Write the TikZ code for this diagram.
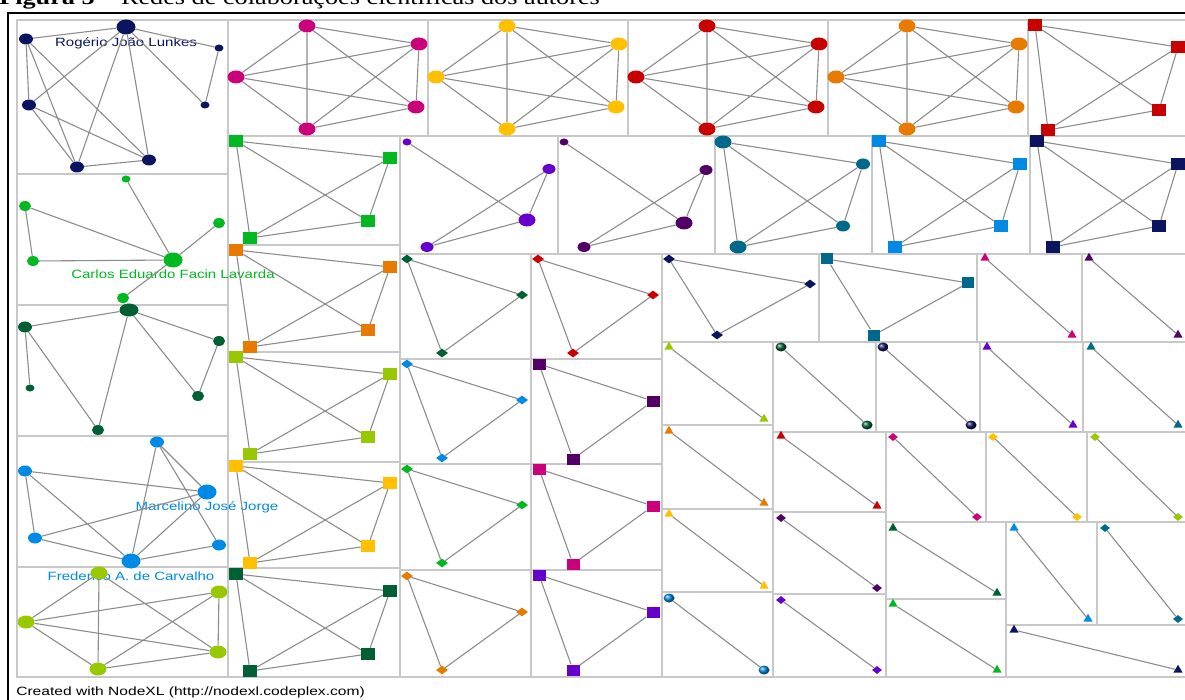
\documentclass[tikz,border=0pt]{standalone}
\usepackage{fontspec}
\setmainfont{Liberation Serif}
\newfontfamily\nodexlfont{Liberation Sans}
\usetikzlibrary{shapes.geometric}

\definecolor{navyc}{RGB}{10,20,95}
\definecolor{pinkc}{RGB}{204,0,122}
\definecolor{yellowc}{RGB}{255,192,0}
\definecolor{redc}{RGB}{200,0,0}
\definecolor{orangec}{RGB}{232,122,0}
\definecolor{greenc}{RGB}{0,184,32}
\definecolor{dgreenc}{RGB}{0,96,52}
\definecolor{lbluec}{RGB}{0,138,230}
\definecolor{ygreenc}{RGB}{152,200,0}
\definecolor{purplec}{RGB}{102,0,204}
\definecolor{dpurplec}{RGB}{82,0,102}
\definecolor{tealc}{RGB}{0,104,138}
\definecolor{edgec}{RGB}{140,140,140}
\definecolor{gridc}{RGB}{200,200,200}

\tikzset{
  circ/.style={ellipse, fill=#1, inner sep=0pt, minimum width=14pt, minimum height=11pt},
  bigc/.style={minimum width=19pt, minimum height=15pt},
  kc/.style={minimum width=17pt, minimum height=13pt},
  smallc/.style={minimum width=9pt, minimum height=7pt},
  sq/.style={rectangle, fill=#1, inner sep=0pt, minimum width=14pt, minimum height=12pt},
  smallsq/.style={minimum width=13pt, minimum height=11pt},
  dia/.style={diamond, fill=#1, inner sep=0pt, minimum width=12pt, minimum height=9pt},
  tri/.style={regular polygon, regular polygon sides=3, fill=#1, inner sep=0pt, minimum size=10.5pt},
  sphere/.style={ellipse, ball color=#1, inner sep=0pt, minimum width=11pt, minimum height=9pt},
  lnk/.style={draw=edgec, line width=1.1pt},
  cellbox/.style={draw=gridc, line width=1.5pt},
  authorlbl/.style={font=\nodexlfont\fontsize{12}{14}\selectfont, text=#1, inner sep=0pt, xscale=1.25},
}

\begin{document}
\begin{tikzpicture}[x=1pt,y=-1pt]
\useasboundingbox (0,0) rectangle (1185,700);

\node [anchor=base west, font=\fontsize{21}{24}\selectfont, inner sep=0pt, xscale=1.25] (caption) at (-1,5)
  {\textbf{Figura 5} -- Redes de colaborações científicas dos autores};

\draw [black, line width=1.8pt] (8,706) -- (8,13) -- (1190,13);

% grid
\foreach \xa/\ya/\xb/\yb in {17/20/228/174, 17/174/228/305, 17/305/228/436, 17/436/228/567, 17/567/228/677,
    228/20/428/136, 428/20/628/136, 628/20/828/136, 828/20/1028/136, 1028/20/1190/136,
    228/136/400/245, 228/245/400/352, 228/352/400/462, 228/462/400/568, 228/568/400/677,
    400/136/558/254, 558/136/715/254, 715/136/872/254, 872/136/1030/254, 1030/136/1190/254,
    662/254/819/342, 819/254/977/342, 977/254/1082/342, 1082/254/1190/342,
    662/342/773/425, 773/342/876/432, 876/342/980/432, 980/342/1083/432, 1083/342/1190/432,
    662/425/773/509, 773/432/886/512, 886/432/986/522, 986/432/1087/522, 1087/432/1190/522,
    662/509/773/592, 773/512/886/594, 886/522/1006/599, 1006/522/1097/625, 1097/522/1190/625,
    662/592/773/677, 773/594/886/677, 886/599/1006/677, 1006/625/1190/677}
  \draw [cellbox] (\xa,\ya) rectangle (\xb,\yb);
\foreach \xa in {400,531}
  \foreach \ya/\yb in {254/359, 359/464, 464/570, 570/677}
    \draw [cellbox] (\xa,\ya) rectangle (\xa+131,\yb);

% names
\node [authorlbl=navyc] (rname) at (126,43) {Rogério João Lunkes};
\node [authorlbl=greenc] (cname) at (173,274) {Carlos Eduardo Facin Lavarda};
\node [authorlbl=lbluec] (mname) at (207,507) {Marcelino José Jorge};
\node [authorlbl=lbluec] (fname) at (131,576) {Frederico A. de Carvalho};

% Rogerio
\node [circ=navyc] (r1) at (26,39) {};
\node [circ=navyc, bigc] (r2) at (126,27) {};
\node [circ=navyc, smallc] (r3) at (219,48) {};
\node [circ=navyc, smallc] (r4) at (205,105) {};
\node [circ=navyc] (r5) at (29,105) {};
\node [circ=navyc] (r6) at (77,167) {};
\node [circ=navyc] (r7) at (149,160) {};
\draw [lnk] (r1) -- (r2) (r2) -- (r3) (r3) -- (r4) (r2) -- (r4)
  (r1) -- (r5) (r1) -- (r6) (r1) -- (r7) (r2) -- (r5) (r2) -- (r6) (r2) -- (r7)
  (r5) -- (r6) (r5) -- (r7) (r6) -- (r7);

% Carlos
\node [circ=greenc, smallc] (c1) at (126,179) {};
\node [circ=greenc, minimum width=12pt, minimum height=10pt] (c2) at (25,206) {};
\node [circ=greenc, minimum width=12pt, minimum height=10pt] (c3) at (219,223) {};
\node [circ=greenc, minimum width=12pt, minimum height=10pt] (c4) at (33,261) {};
\node [circ=greenc, bigc] (c5) at (173,260) {};
\node [circ=greenc, minimum width=12pt, minimum height=10pt] (c6) at (123,298) {};
\draw [lnk] (c1) -- (c5) (c2) -- (c5) (c2) -- (c4) (c4) -- (c5) (c3) -- (c5) (c5) -- (c6);

% dark green
\node [circ=dgreenc, bigc, minimum height=13pt] (d1) at (129,310) {};
\node [circ=dgreenc] (d2) at (25,327) {};
\node [circ=dgreenc, minimum width=12pt, minimum height=10pt] (d3) at (219,341) {};
\node [circ=dgreenc, smallc] (d4) at (30,388) {};
\node [circ=dgreenc, minimum width=12pt, minimum height=10pt] (d5) at (198,396) {};
\node [circ=dgreenc, minimum width=12pt, minimum height=10pt] (d6) at (98,430) {};
\draw [lnk] (d1) -- (d2) (d1) -- (d6) (d1) -- (d5) (d1) -- (d3) (d3) -- (d5) (d2) -- (d4) (d2) -- (d6);

% Marcelino
\node [circ=lbluec] (m1) at (157,442) {};
\node [circ=lbluec] (m2) at (25,471) {};
\node [circ=lbluec, bigc] (m3) at (207,492) {};
\node [circ=lbluec] (m4) at (35,538) {};
\node [circ=lbluec] (m5) at (219,545) {};
\node [circ=lbluec, bigc] (m6) at (131,561) {};
\draw [lnk] (m2) -- (m3) (m2) -- (m4) (m2) -- (m6) (m4) -- (m3) (m4) -- (m6)
  (m6) -- (m1) (m6) -- (m3) (m6) -- (m5) (m1) -- (m3) (m1) -- (m5);

% Frederico
\node [circ=ygreenc, kc] (f1) at (99,573) {};
\node [circ=ygreenc, kc] (f2) at (219,592) {};
\node [circ=ygreenc, kc] (f3) at (26,622) {};
\node [circ=ygreenc, kc] (f4) at (218,652) {};
\node [circ=ygreenc, kc] (f5) at (98,669) {};
\draw [lnk] (f1) -- (f3) (f1) -- (f5) (f1) -- (f4) (f3) -- (f2) (f3) -- (f4) (f3) -- (f5)
  (f2) -- (f4) (f2) -- (f5) (f5) -- (f4);

% top row
\foreach \c [count=\i from 0] in {pinkc,yellowc,redc,orangec}{
  \node [circ=\c, kc] (t\i) at (307+200*\i,26) {};
  \node [circ=\c, kc] (rt\i) at (419+200*\i,44) {};
  \node [circ=\c, kc] (l\i) at (236+200*\i,77) {};
  \node [circ=\c, kc] (rb\i) at (416+200*\i,107) {};
  \node [circ=\c, kc] (b\i) at (307+200*\i,129) {};
  \draw [lnk] (t\i) -- (rt\i) (t\i) -- (l\i) (t\i) -- (rb\i) (t\i) -- (b\i)
    (l\i) -- (rt\i) (l\i) -- (rb\i) (l\i) -- (b\i)
    (rt\i) -- (rb\i) (rt\i) -- (b\i) (rb\i) -- (b\i);
}
\node [sq=redc] (s1) at (1035,25) {};
\node [sq=redc] (s2) at (1178,47) {};
\node [sq=redc] (s3) at (1159,110) {};
\node [sq=redc] (s4) at (1048,130) {};
\draw [lnk] (s1) -- (s2) (s1) -- (s3) (s1) -- (s4) (s2) -- (s3) (s2) -- (s4) (s3) -- (s4);

% square column
\foreach \c/\t [count=\i] in {greenc/136, orangec/245, ygreenc/352, yellowc/461, dgreenc/569}{
  \node [sq=\c] (qa\i) at (236,\t+5) {};
  \node [sq=\c] (qb\i) at (390,\t+22) {};
  \node [sq=\c] (qc\i) at (368,\t+85) {};
  \node [sq=\c] (qd\i) at (250,\t+102) {};
  \draw [lnk] (qa\i) -- (qb\i) (qa\i) -- (qc\i) (qa\i) -- (qd\i)
    (qb\i) -- (qc\i) (qb\i) -- (qd\i) (qc\i) -- (qd\i);
}

% second row
\foreach \c/\dx [count=\i] in {purplec/0, dpurplec/157}{
  \node [circ=\c, smallc] (pa\i) at (407+\dx,142) {};
  \node [circ=\c, minimum width=13pt, minimum height=10pt] (pb\i) at (549+\dx,168+\i) {};
  \node [circ=\c, minimum width=17pt, minimum height=13pt] (pc\i) at (527+\dx,217+3*\i) {};
  \node [circ=\c, minimum width=13pt, minimum height=10pt] (pd\i) at (427+\dx,247) {};
  \draw [lnk] (pa\i) -- (pc\i) (pb\i) -- (pc\i) (pb\i) -- (pd\i) (pc\i) -- (pd\i);
}
\node [circ=tealc, kc] (u1) at (723,142) {};
\node [circ=tealc] (u2) at (863,164) {};
\node [circ=tealc] (u3) at (843,226) {};
\node [circ=tealc, kc] (u4) at (738,247) {};
\draw [lnk] (u1) -- (u2) (u1) -- (u3) (u1) -- (u4) (u2) -- (u3) (u2) -- (u4) (u3) -- (u4);
\foreach \c/\dx [count=\i] in {lbluec/0, navyc/158}{
  \node [sq=\c] (va\i) at (879+\dx,141) {};
  \node [sq=\c] (vb\i) at (1020+\dx,164) {};
  \node [sq=\c] (vc\i) at (1001+\dx,226) {};
  \node [sq=\c] (vd\i) at (895+\dx,247) {};
  \draw [lnk] (va\i) -- (vb\i) (va\i) -- (vc\i) (va\i) -- (vd\i)
    (vb\i) -- (vc\i) (vb\i) -- (vd\i) (vc\i) -- (vd\i);
}

% triangles of three
\foreach \c/\t [count=\i] in {dgreenc/254, lbluec/359, greenc/464, orangec/571}{
  \node [dia=\c] (ea\i) at (407,\t+5) {};
  \node [dia=\c] (eb\i) at (522,\t+41) {};
  \node [dia=\c] (ec\i) at (442,\t+99) {};
  \draw [lnk] (ea\i) -- (eb\i) -- (ec\i) -- (ea\i);
}
\node [dia=redc] (ga0) at (538,259) {};
\node [dia=redc] (gb0) at (653,295) {};
\node [dia=redc] (gc0) at (573,353) {};
\draw [lnk] (ga0) -- (gb0) -- (gc0) -- (ga0);
\foreach \c/\t [count=\i] in {dpurplec/359, pinkc/464, purplec/570}{
  \node [sq=\c, smallsq] (ga\i) at (539,\t+5) {};
  \node [sq=\c, smallsq] (gb\i) at (653,\t+42) {};
  \node [sq=\c, smallsq] (gc\i) at (573,\t+100) {};
  \draw [lnk] (ga\i) -- (gb\i) -- (gc\i) -- (ga\i);
}
\node [dia=navyc] (h1) at (669,259) {};
\node [dia=navyc] (h2) at (810,284) {};
\node [dia=navyc] (h3) at (717,335) {};
\draw [lnk] (h1) -- (h2) -- (h3) -- (h1);
\node [sq=tealc, minimum width=12pt, minimum height=11pt] (w1) at (827,259) {};
\node [sq=tealc, minimum width=12pt, minimum height=11pt] (w2) at (968,283) {};
\node [sq=tealc, minimum width=12pt, minimum height=11pt] (w3) at (874,335) {};
\draw [lnk] (w1) -- (w2) -- (w3) -- (w1);

% pairs
\foreach \xa/\ya/\xb/\yb/\c [count=\i] in {985/258/1072/335/pinkc, 1089/258/1178/335/dpurplec,
    669/347/764/419/ygreenc, 987/347/1073/425/purplec, 1091/347/1178/425/tealc,
    669/431/764/503/orangec, 781/436/877/506/redc, 669/514/764/586/yellowc,
    893/528/997/593/dgreenc, 1014/528/1088/619/lbluec, 893/604/997/670/greenc, 1014/630/1178/670/navyc}{
  \node [tri=\c] (ta\i) at (\xa,\ya) {};
  \node [tri=\c] (tb\i) at (\xb,\yb) {};
  \draw [lnk] (ta\i) -- (tb\i);
}
\foreach \xa/\ya/\xb/\yb/\c [count=\i] in {781/347/867/425/dgreenc, 883/347/971/425/navyc, 669/598/764/670/lbluec}{
  \node [sphere=\c] (oa\i) at (\xa,\ya) {};
  \node [sphere=\c] (ob\i) at (\xb,\yb) {};
  \draw [lnk] (oa\i) -- (ob\i);
}
\foreach \xa/\ya/\xb/\yb/\c [count=\i] in {893/437/977/517/pinkc, 993/437/1077/517/yellowc, 1095/437/1178/517/ygreenc,
    781/518/877/588/dpurplec, 1105/528/1178/619/tealc, 781/600/877/670/purplec}{
  \node [dia=\c, minimum width=10pt, minimum height=8pt] (za\i) at (\xa,\ya) {};
  \node [dia=\c, minimum width=10pt, minimum height=8pt] (zb\i) at (\xb,\yb) {};
  \draw [lnk] (za\i) -- (zb\i);
}

\node [anchor=base west, font=\nodexlfont\fontsize{12}{14}\selectfont, inner sep=0pt, xscale=1.3] (credit) at (16,695)
  {Created with NodeXL (http://nodexl.codeplex.com)};
\end{tikzpicture}
\end{document}
